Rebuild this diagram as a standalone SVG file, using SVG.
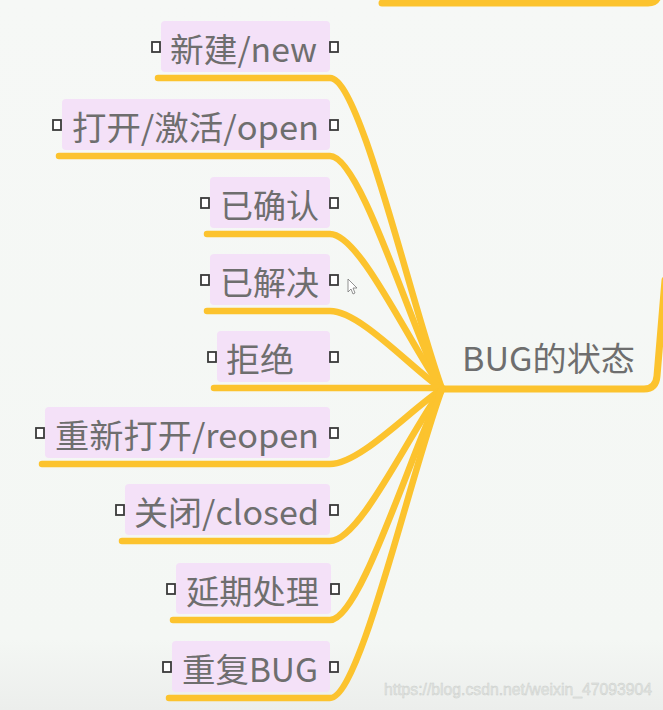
<svg xmlns="http://www.w3.org/2000/svg" width="663" height="710" viewBox="0 0 663 710">
  <defs>
    <linearGradient id="bg" x1="0" y1="0" x2="0" y2="1">
      <stop offset="0" stop-color="#f6f8f6"/>
      <stop offset="0.9" stop-color="#f4f7f4"/>
      <stop offset="1" stop-color="#eceeec"/>
    </linearGradient>
  </defs>
  <style>
    .box { fill: #f4e1f8; }
    .lbl { font-family: "Noto Sans CJK SC", "Noto Sans", sans-serif; font-size: 33px; fill: #6e6e6e; }
    .sq { fill: #ffffff; stroke: #3a3a3a; stroke-width: 1.8; }
    .ln { fill: none; stroke: #fcc32e; stroke-width: 6.5; stroke-linecap: round; stroke-linejoin: round; }
    .main { fill: none; stroke: #fcc32e; stroke-width: 7; stroke-linecap: round; }
    .wm { font-family: "Liberation Sans", Arial, sans-serif; font-size: 16px; fill: #e2e5e2; stroke: #c9ccc9; stroke-width: 0.4; }
  </style>
  <rect x="0" y="0" width="663" height="710" fill="url(#bg)"/>

  <g id="connectors">
    <path class="main" d="M382,3 H648 Q657,3 659,-6"/>
    <path class="main" d="M442,389 H644 Q656,389 657,376 L665,280"/>
    <path class="ln" d="M158,78 H330 C360,78 410,300 442,389"/>
    <path class="ln" d="M59,156 H330 C360,156 410,324 442,389"/>
    <path class="ln" d="M207,234 H330 C360,234 410,345 442,389"/>
    <path class="ln" d="M207,311 H330 C360,311 410,367 442,389"/>
    <path class="ln" d="M214,388 H442"/>
    <path class="ln" d="M42,464 H330 C360,464 410,410 442,389"/>
    <path class="ln" d="M122,541 H330 C360,541 410,432 442,389"/>
    <path class="ln" d="M173,620 H330 C360,620 410,455 442,389"/>
    <path class="ln" d="M169,698 H330 C360,698 410,475 442,389"/>
  </g>

  <g id="center">
    <text class="lbl" x="462" y="371" textLength="173" lengthAdjust="spacingAndGlyphs">BUG的状态</text>
  </g>

  <g id="n-new">
    <rect class="box" x="161" y="21" width="169" height="51" rx="4"/>
    <text class="lbl" x="170" y="62" textLength="147" lengthAdjust="spacingAndGlyphs">新建/new</text>
    <rect class="sq" x="152" y="42" width="8" height="10"/>
    <rect class="sq" x="330" y="42" width="8" height="10"/>
  </g>
  <g id="n-open">
    <rect class="box" x="62" y="99" width="268" height="51" rx="4"/>
    <text class="lbl" x="72" y="140" textLength="247" lengthAdjust="spacingAndGlyphs">打开/激活/open</text>
    <rect class="sq" x="53" y="120" width="8" height="10"/>
    <rect class="sq" x="330" y="120" width="8" height="10"/>
  </g>
  <g id="n-confirmed">
    <rect class="box" x="210" y="177" width="120" height="51" rx="4"/>
    <text class="lbl" x="220" y="218" textLength="99" lengthAdjust="spacingAndGlyphs">已确认</text>
    <rect class="sq" x="201" y="198" width="8" height="10"/>
    <rect class="sq" x="330" y="198" width="8" height="10"/>
  </g>
  <g id="n-resolved">
    <rect class="box" x="210" y="254" width="120" height="51" rx="4"/>
    <text class="lbl" x="220" y="295" textLength="99" lengthAdjust="spacingAndGlyphs">已解决</text>
    <rect class="sq" x="201" y="275" width="8" height="10"/>
    <rect class="sq" x="330" y="275" width="8" height="10"/>
  </g>
  <g id="n-rejected">
    <rect class="box" x="217" y="331" width="113" height="51" rx="4"/>
    <text class="lbl" x="226" y="372" textLength="68" lengthAdjust="spacingAndGlyphs">拒绝</text>
    <rect class="sq" x="208" y="352" width="8" height="10"/>
    <rect class="sq" x="330" y="352" width="8" height="10"/>
  </g>
  <g id="n-reopen">
    <rect class="box" x="45" y="407" width="285" height="51" rx="4"/>
    <text class="lbl" x="55" y="448" textLength="264" lengthAdjust="spacingAndGlyphs">重新打开/reopen</text>
    <rect class="sq" x="36" y="428" width="8" height="10"/>
    <rect class="sq" x="330" y="428" width="8" height="10"/>
  </g>
  <g id="n-closed">
    <rect class="box" x="125" y="484" width="205" height="51" rx="4"/>
    <text class="lbl" x="134" y="525" textLength="185" lengthAdjust="spacingAndGlyphs">关闭/closed</text>
    <rect class="sq" x="116" y="505" width="8" height="10"/>
    <rect class="sq" x="330" y="505" width="8" height="10"/>
  </g>
  <g id="n-deferred">
    <rect class="box" x="176" y="563" width="155" height="51" rx="4"/>
    <text class="lbl" x="186" y="604" textLength="133" lengthAdjust="spacingAndGlyphs">延期处理</text>
    <rect class="sq" x="167" y="584" width="8" height="10"/>
    <rect class="sq" x="331" y="584" width="8" height="10"/>
  </g>
  <g id="n-duplicate">
    <rect class="box" x="172" y="641" width="158" height="51" rx="4"/>
    <text class="lbl" x="182" y="682" textLength="136" lengthAdjust="spacingAndGlyphs">重复BUG</text>
    <rect class="sq" x="163" y="662" width="8" height="10"/>
    <rect class="sq" x="330" y="662" width="8" height="10"/>
  </g>

  <path d="M348,279 L348,292 L351,289 L353,294 L355,293 L353,288 L357,288 Z" fill="#ffffff" stroke="#777777" stroke-width="0.8"/>

  <text class="wm" x="384" y="695" textLength="268" lengthAdjust="spacingAndGlyphs">https://blog.csdn.net/weixin_47093904</text>
</svg>
